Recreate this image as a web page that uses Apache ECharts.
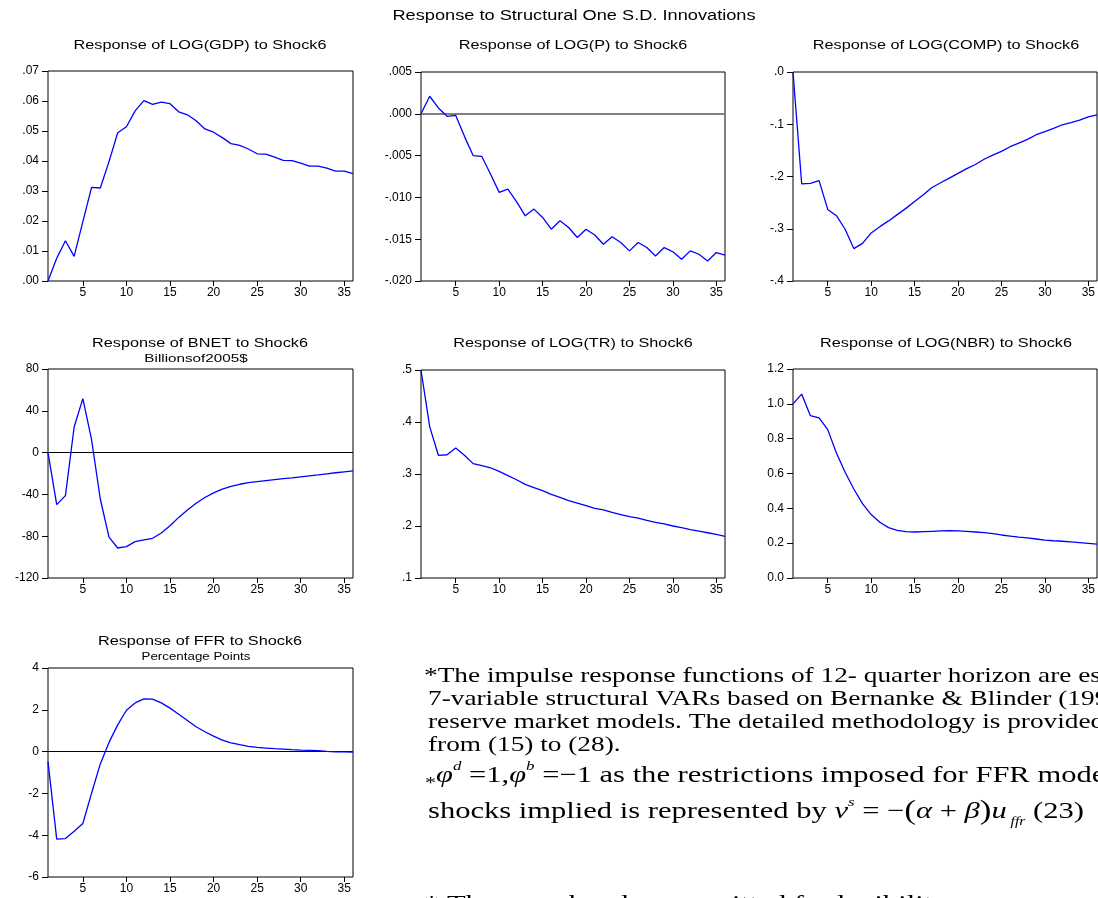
<!DOCTYPE html>
<html><head><meta charset="utf-8">
<script src="https://cdn.jsdelivr.net/npm/echarts@6/dist/echarts.min.js"></script>
<style>html,body{margin:0;padding:0;background:#fff}#c{width:1098px;height:898px}</style>
</head><body><div id="c"></div><script>
// ---------------- data ----------------
const periods = ['1','2','3','4','5','6','7','8','9','10','11','12','13','14','15','16','17','18',
  '19','20','21','22','23','24','25','26','27','28','29','30','31','32','33','34','35','36'];
const xTickLabels = ['5','10','15','20','25','30','35'];

const gdp = [0.000,0.0076,0.0134,0.0082,0.0198,0.0312,0.0310,0.0398,0.0494,0.0514,0.0567,0.0601,
  0.0589,0.0596,0.0591,0.0564,0.0554,0.0534,0.0507,0.0496,0.0478,0.0458,0.0452,0.0440,
  0.0424,0.0423,0.0413,0.0402,0.0401,0.0393,0.0383,0.0383,0.0376,0.0366,0.0366,0.0358];
const logP = [0.0000,0.0021,0.0007,-0.0003,-0.0002,-0.0027,-0.0050,-0.0051,-0.0072,-0.0094,-0.0090,-0.0105,
  -0.0122,-0.0114,-0.0124,-0.0138,-0.0128,-0.0136,-0.0148,-0.0138,-0.0145,-0.0156,-0.0147,-0.0154,
  -0.0164,-0.0154,-0.0160,-0.0170,-0.0160,-0.0165,-0.0174,-0.0164,-0.0168,-0.0176,-0.0166,-0.0169];
const comp = [0.000,-0.214,-0.213,-0.208,-0.263,-0.275,-0.301,-0.338,-0.328,-0.308,-0.296,-0.285,
  -0.273,-0.261,-0.248,-0.235,-0.221,-0.212,-0.203,-0.194,-0.185,-0.177,-0.167,-0.159,
  -0.152,-0.143,-0.136,-0.129,-0.120,-0.114,-0.108,-0.101,-0.097,-0.092,-0.086,-0.082];
const bnet = [0,-49.8,-41.2,24.5,51.6,12.4,-44.4,-80.8,-91.3,-90.0,-85.2,-83.6,
  -82.0,-77.0,-70.0,-62.0,-55.0,-48.5,-43.0,-38.5,-35.0,-32.3,-30.3,-28.8,
  -27.8,-26.8,-25.9,-25.0,-24.2,-23.2,-22.2,-21.3,-20.3,-19.3,-18.4,-17.5];
const tr = [0.500,0.391,0.336,0.337,0.350,0.336,0.320,0.316,0.312,0.305,0.297,0.289,
  0.280,0.274,0.268,0.261,0.255,0.249,0.244,0.239,0.234,0.231,0.226,0.222,
  0.218,0.215,0.211,0.207,0.204,0.200,0.197,0.193,0.190,0.187,0.184,0.180];
const nbr = [1.000,1.056,0.932,0.919,0.852,0.718,0.607,0.511,0.427,0.364,0.320,0.289,
  0.274,0.266,0.264,0.266,0.268,0.270,0.272,0.270,0.268,0.264,0.260,0.255,
  0.247,0.241,0.235,0.230,0.224,0.218,0.214,0.211,0.207,0.203,0.199,0.195];
const ffr = [-0.48,-4.19,-4.16,-3.81,-3.44,-1.99,-0.59,0.44,1.28,1.98,2.33,2.52,
  2.51,2.33,2.08,1.79,1.49,1.19,0.95,0.74,0.55,0.42,0.33,0.25,
  0.20,0.17,0.14,0.12,0.09,0.07,0.06,0.04,0.01,-0.01,-0.01,-0.02];

const mainTitle = 'Response to Structural One S.D. Innovations';
const panelTitles = ['Response of LOG(GDP) to Shock6','Response of LOG(P) to Shock6','Response of LOG(COMP) to Shock6',
  'Response of BNET to Shock6','Response of LOG(TR) to Shock6','Response of LOG(NBR) to Shock6','Response of FFR to Shock6'];
const panelSubtitles = ['','','','Billionsof2005$','','','Percentage Points'];

// ---------------- layout ----------------
const panels = [
  {data:gdp,  min:0,     max:0.07,  step:0.01,  dec:2, lead:false, zero:null,   grid:{left:48, top:71,  width:305, height:210}, tx:200, ty:45},
  {data:logP, min:-0.02, max:0.005, step:0.005, dec:3, lead:false, zero:'grey', grid:{left:421,top:72,  width:304, height:209}, tx:573, ty:45},
  {data:comp, min:-0.4,  max:0,     step:0.1,   dec:1, lead:false, zero:null,   grid:{left:793,top:72,  width:304, height:209}, tx:946, ty:45},
  {data:bnet, min:-120,  max:80,    step:40,    dec:0, lead:false, zero:'black',grid:{left:48, top:369, width:305, height:209}, tx:200, ty:343},
  {data:tr,   min:0.1,   max:0.5,   step:0.1,   dec:1, lead:false, zero:null,   grid:{left:421,top:370, width:304, height:208}, tx:573, ty:343},
  {data:nbr,  min:0,     max:1.2,   step:0.2,   dec:1, lead:true,  zero:null,   grid:{left:793,top:369, width:304, height:209}, tx:946, ty:343},
  {data:ffr,  min:-6,    max:4,     step:2,     dec:0, lead:false, zero:'black',grid:{left:48, top:668, width:305, height:209}, tx:200, ty:641}
];

function fmt(v, dec, lead){
  if (Math.abs(v) < 1e-12) v = 0;
  let s = v.toFixed(dec);
  if (!lead) s = s.replace(/^(-?)0\./, '$1.');
  return s;
}

const AX_FONT = '"Liberation Sans", Arial, sans-serif';
const grids = [], xAxes = [], yAxes = [], series = [], graphics = [];
panels.forEach((p, i) => {
  grids.push(Object.assign({show:true, borderColor:'#000', borderWidth:1, backgroundColor:'#fff'}, p.grid));
  xAxes.push({
    type:'category', gridIndex:i, data:periods, boundaryGap:false,
    axisLine:{show:false, onZero:false},
    axisTick:{show:true, length:5, lineStyle:{color:'#000'}, interval:(idx, val) => xTickLabels.includes(val)},
    axisLabel:{interval:(idx, val) => xTickLabels.includes(val), color:'#000', fontFamily:AX_FONT, fontSize:12, margin:6},
    splitLine:{show:false}
  });
  yAxes.push({
    type:'value', gridIndex:i, min:p.min, max:p.max, interval:p.step,
    axisLine:{show:false, onZero:false},
    axisTick:{show:true, length:6, lineStyle:{color:'#000'}},
    axisLabel:{color:'#000', fontFamily:AX_FONT, fontSize:12, margin:9, formatter:(v) => fmt(v, p.dec, p.lead)},
    splitLine:{show:false}
  });
  const s = {
    type:'line', xAxisIndex:i, yAxisIndex:i, data:p.data, showSymbol:false, symbol:'none',
    lineStyle:{color:'#0000ff', width:1.3}, z:3
  };
  if (p.zero) {
    s.markLine = {silent:true, symbol:'none', label:{show:false},
      lineStyle:{color: p.zero === 'grey' ? '#7f7f7f' : '#000', width: p.zero === 'grey' ? 2 : 1, type:'solid'},
      data:[{yAxis:0}], z:2};
  }
  series.push(s);
  graphics.push({type:'text', x:p.tx, y:p.ty, scaleX:1.25,
    style:{text:panelTitles[i], font:'13px "Liberation Sans"', fill:'#000', align:'center', verticalAlign:'middle'}});
  if (panelSubtitles[i]) {
    graphics.push({type:'text', x:p.tx - 4, y:p.ty + 16.5, scaleX: panelSubtitles[i].indexOf(' ') < 0 ? 1.45 : 1.27,
      style:{text:panelSubtitles[i], font:'10.5px "Liberation Sans"', fill:'#000', align:'center', verticalAlign:'middle'}});
  }
});

graphics.push({type:'text', x:574, y:16, scaleX:1.3,
  style:{text:mainTitle, font:'14px "Liberation Sans"', fill:'#000', align:'center', verticalAlign:'middle'}});

// ---------------- notes ----------------
const SERIF = '"Liberation Serif"';
const NOTE_SIZE = 21;
const EQ_SIZE = 23.5;
const noteLines = [
  '*The impulse response functions of 12- quarter horizon are estimated',
  '7-variable structural VARs based on Bernanke & Blinder (1992)',
  'reserve market models. The detailed methodology is provided',
  'from (15) to (28).'
];
const noteX = [424, 428, 428, 428];
const noteY = [676, 699, 722, 745];
noteLines.forEach((t, k) => {
  graphics.push({type:'text', x:noteX[k], y:noteY[k], scaleX:1.3,
    style:{text:t, font:NOTE_SIZE + 'px ' + SERIF, fill:'#000', align:'left', verticalAlign:'middle'}});
});
const rich = {
  n:{font:EQ_SIZE + 'px ' + SERIF, fill:'#000', lineHeight:32},
  it:{font:'italic ' + EQ_SIZE + 'px ' + SERIF, fill:'#000', lineHeight:32},
  big:{font:'27px ' + SERIF, fill:'#000', lineHeight:32},
  sup:{font:'italic 13px ' + SERIF, fill:'#000', lineHeight:15, verticalAlign:'top'},
  sub:{font:'italic 12px ' + SERIF, fill:'#000', lineHeight:12, verticalAlign:'bottom'},
  ast:{font:'17px ' + SERIF, fill:'#000', lineHeight:13, verticalAlign:'bottom'}
};
graphics.push({type:'text', x:425, y:776, scaleX:1.3,
  style:{text:'{ast|*}{it|φ}{sup|d}{n| =1,}{it|φ}{sup|b}{n| =−1 as the restrictions imposed for FFR model}',
    rich:rich, align:'left', verticalAlign:'middle'}});
graphics.push({type:'text', x:428, y:812, scaleX:1.3,
  style:{text:'{n|shocks implied is represented by }{it|v}{sup|s}{n| = −}{big|(}{it|α}{n| + }{it|β}{big|)}{it|u}{sub| ffr}{n| (23)}',
    rich:rich, align:'left', verticalAlign:'middle'}});
graphics.push({type:'text', x:424, y:905, scaleX:1.3,
  style:{text:'* The error bands are omitted for legibility', font:EQ_SIZE + 'px ' + SERIF, fill:'#000', align:'left', verticalAlign:'middle'}});

const chart = echarts.init(document.getElementById('c'), null, {renderer:'canvas'});
chart.setOption({
  animation:false,
  backgroundColor:'#fff',
  grid:grids, xAxis:xAxes, yAxis:yAxes, series:series, graphic:graphics
});
</script></body></html>
